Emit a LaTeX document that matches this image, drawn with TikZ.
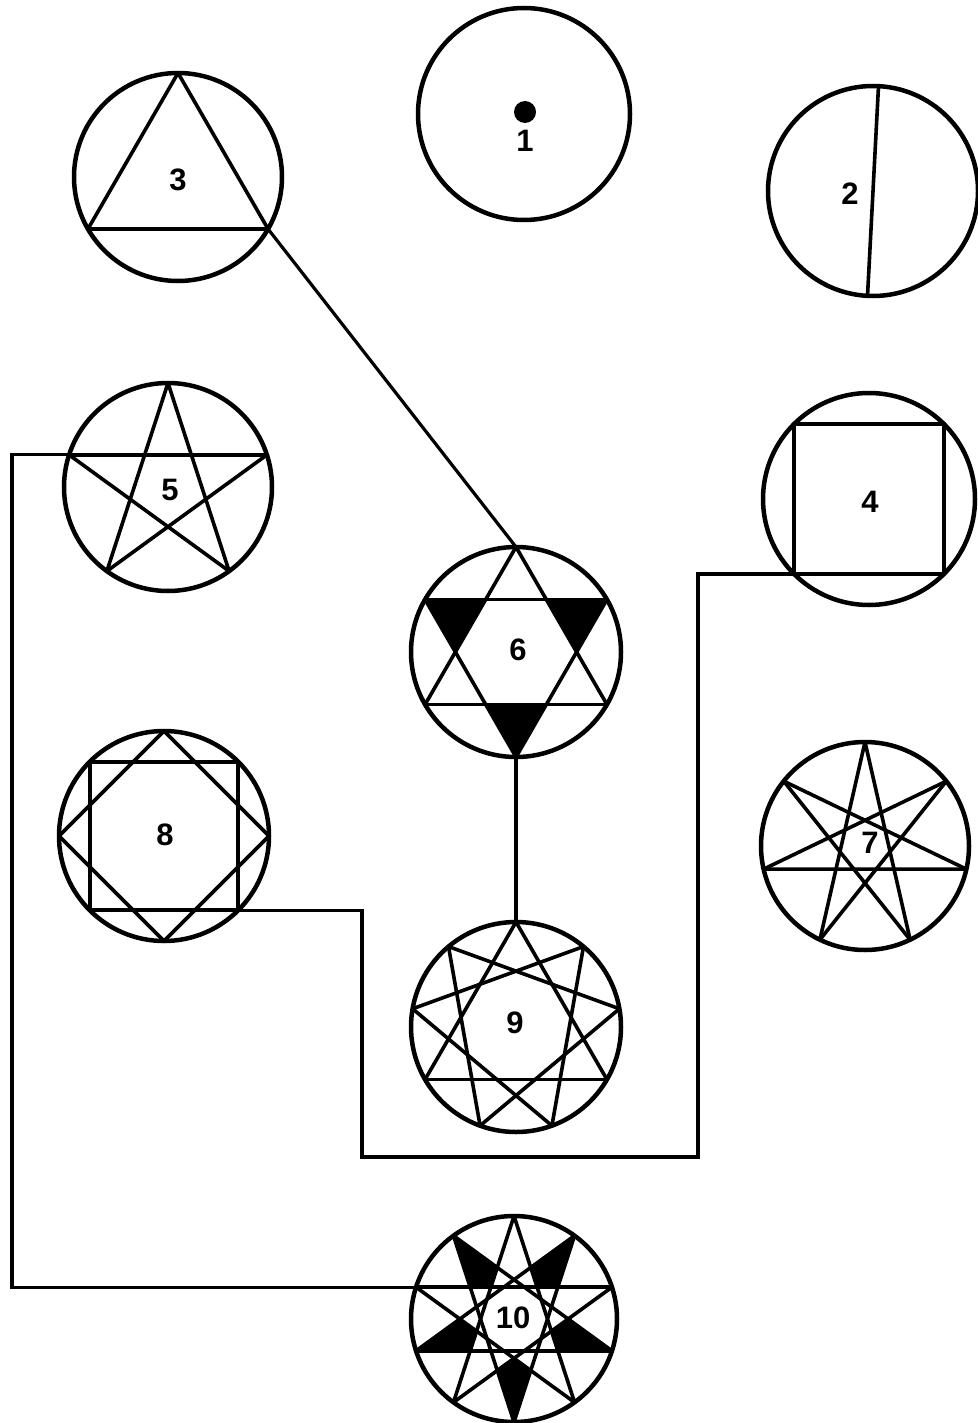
\documentclass[tikz,border=0pt]{standalone}
\usepackage{fontspec}
\setmainfont{Liberation Sans}
\usetikzlibrary{calc}
\tikzset{
  ring/.style={circle, draw, line width=4.5pt, minimum size=#1, inner sep=0pt, outer sep=0pt},
  starline/.style={line width=3.6pt, line cap=round, line join=round},
  wire/.style={line width=3.2pt, line join=miter},
  lab/.style={font=\fontsize{31}{33}\selectfont\bfseries, inner sep=0pt},
}
\newcommand\starpoly[5]{% #1 name, #2 radius, #3 n, #4 step, #5 start angle
  \pgfmathtruncatemacro\nmax{#3-1}
  \foreach \i in {0,...,\nmax}{\coordinate (#1-\i) at ($(#1)+({-(#5+\i*360/#3)}:#2)$);}
  \foreach \i in {0,...,\nmax}{\pgfmathtruncatemacro\j{mod(\i+#4,#3)}\draw[starline] (#1-\i) -- (#1-\j);}
}
\begin{document}
\begin{tikzpicture}[x=1pt,y=-1pt]
\useasboundingbox (0,0) rectangle (977,1423);
\fill[white] (0,0) rectangle (977,1423);

% circle 1
\node[ring=212pt] (c1) at (524,114) {};
\node[circle, fill, minimum size=22pt, inner sep=0pt] (dot1) at (525,112) {};
\node[lab] (l1) at (525,141) {1};

% circle 2
\node[ring=210pt] (c2) at (873,191) {};
\coordinate (c2-a) at ($(c2)+(-87:105)$);
\coordinate (c2-b) at ($(c2)+(-267:105)$);
\draw[starline] (c2-a) -- (c2-b);
\node[lab] (l2) at (850,194) {2};

% circle 3
\node[ring=208pt] (c3) at (178,177) {};
\starpoly{c3}{104}{3}{1}{90}
\node[lab] (l3) at (178,180) {3};

% circle 4
\node[ring=212pt] (c4) at (869,499) {};
\starpoly{c4}{106}{4}{1}{45}
\node[lab] (l4) at (870,502) {4};

% circle 5
\node[ring=208pt] (c5) at (168,487) {};
\starpoly{c5}{104}{5}{2}{90}
\node[lab] (l5) at (170,490) {5};

% circle 6
\node[ring=210pt] (c6) at (516,652) {};
\starpoly{c6}{105}{6}{2}{90}
\foreach \a in {150,270,30}{
  \fill ($(c6)+({-\a}:105)$) -- ($(c6)+({-(\a-30)}:60.6)$) -- ($(c6)+({-(\a+30)}:60.6)$) -- cycle;
}
\node[lab] (l6) at (518,650) {6};

% circle 7
\node[ring=208pt] (c7) at (865,846) {};
\starpoly{c7}{104}{7}{3}{90}
\node[lab] (l7) at (870,843) {7};

% circle 8
\node[ring=210pt] (c8) at (164,836) {};
\starpoly{c8}{105}{8}{2}{90}
\node[lab] (l8) at (165,835) {8};

% circle 9
\node[ring=210pt] (c9) at (516,1027) {};
\starpoly{c9}{105}{9}{3}{90}
\node[lab] (l9) at (515,1023) {9};

% circle 10
\node[ring=206pt] (c10) at (514,1319) {};
\starpoly{c10}{103}{10}{4}{90}
\foreach \a in {126,198,270,342,54}{
  \fill ($(c10)+({-\a}:103)$) -- ($(c10)+({-(\a-18)}:54.1)$) -- ($(c10)+({-\a}:39.3)$) -- ($(c10)+({-(\a+18)}:54.1)$) -- cycle;
}
\node[lab] (l10) at (513,1318) {10};

% connectors
\coordinate (k1) at (362,1157);
\coordinate (k2) at (698,1157);
\coordinate (k3) at (12,870);
\draw[wire] (c3-2) -- (c6-0);
\draw[wire] (c6-3) -- (c9-0);
\draw[wire] (c8-5) -| (k1) -- (k2) |- (c4-2);
\draw[wire] (c5-1) -| (k3) |- (c10-2);
\end{tikzpicture}
\end{document}
